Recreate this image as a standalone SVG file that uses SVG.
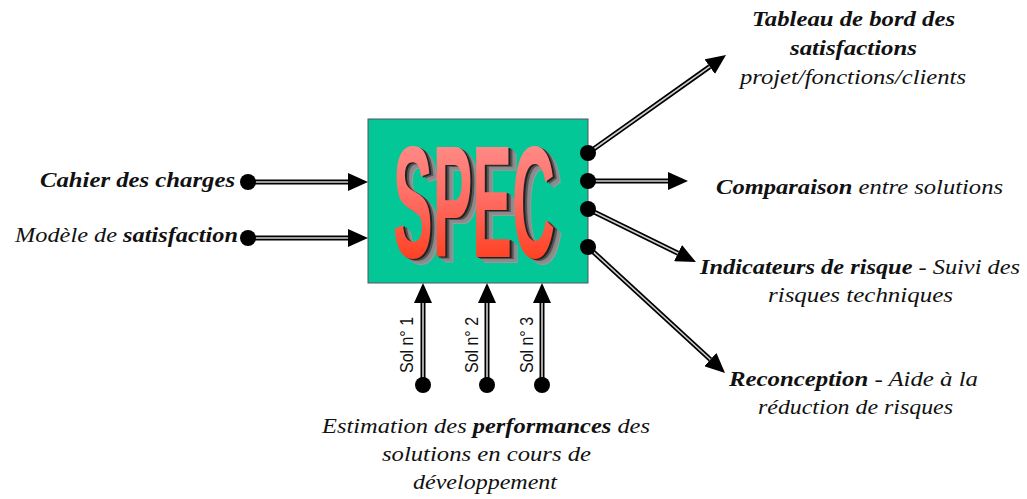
<svg xmlns="http://www.w3.org/2000/svg" xmlns:xlink="http://www.w3.org/1999/xlink" width="1027" height="499" viewBox="0 0 1027 499">
<style>
.lbl{font-style:italic;font-size:22px;fill:#111}
.b{font-weight:bold}
.sol{font-size:18px;fill:#111}
.outer{fill:none;stroke:#000;stroke-width:5}
.inner{fill:none;stroke:#d0d0d0;stroke-width:1.6}
.dot{fill:#000}
.spec{font-weight:bold;font-size:159px}
</style>
<defs>
<marker id="ah" viewBox="0 0 20 18" refX="0" refY="9" markerWidth="20" markerHeight="18" markerUnits="userSpaceOnUse" orient="auto">
<path d="M0,0 L20,9 L0,18 z" fill="#000"/>
</marker>
<linearGradient id="red" x1="0" y1="0" x2="0" y2="1">
<stop offset="0" stop-color="#ff9c9c"/>
<stop offset="0.5" stop-color="#ff6a60"/>
<stop offset="1" stop-color="#ff2a00"/>
</linearGradient>
<text id="specTxt" class="spec" font-family="Liberation Sans, Arial, sans-serif" x="393" y="257" textLength="162" lengthAdjust="spacingAndGlyphs">SPEC</text>
</defs>
<rect width="1027" height="499" fill="#fff"/>

<g id="spec-box">
<rect x="368" y="119" width="220" height="164" fill="#04c798" stroke="#556" stroke-width="1"/>
<use xlink:href="#specTxt" x="8" y="6" fill="#9a9a9a"/>
<use xlink:href="#specTxt" x="7" y="5" fill="#8c8c8c"/>
<use xlink:href="#specTxt" x="6" y="4" fill="#8c8c8c"/>
<use xlink:href="#specTxt" x="5" y="3" fill="#888"/>
<use xlink:href="#specTxt" x="4" y="2" fill="#555"/>
<use xlink:href="#specTxt" x="2" y="1" fill="#222"/>
<use xlink:href="#specTxt" x="0" y="0" fill="url(#red)"/>
</g>

<g id="connectors">
<path class="outer" d="M248,182 H348" marker-end="url(#ah)"/>
<path class="inner" d="M248,182 H348"/>
<path class="outer" d="M248,238 H348" marker-end="url(#ah)"/>
<path class="inner" d="M248,238 H348"/>
<path class="outer" d="M423,385 V303" marker-end="url(#ah)"/>
<path class="inner" d="M423,385 V303"/>
<path class="outer" d="M487,385 V303" marker-end="url(#ah)"/>
<path class="inner" d="M487,385 V303"/>
<path class="outer" d="M542,385 V303" marker-end="url(#ah)"/>
<path class="inner" d="M542,385 V303"/>
<path class="outer" d="M588,153 L709.7,66.6" marker-end="url(#ah)"/>
<path class="inner" d="M588,153 L709.7,66.6"/>
<path class="outer" d="M588,181 H668" marker-end="url(#ah)"/>
<path class="inner" d="M588,181 H668"/>
<path class="outer" d="M588,209 L678,253.2" marker-end="url(#ah)"/>
<path class="inner" d="M588,209 L678,253.2"/>
<path class="outer" d="M588,247 L710.3,359.5" marker-end="url(#ah)"/>
<path class="inner" d="M588,247 L710.3,359.5"/>
<circle class="dot" cx="248" cy="182" r="8"/>
<circle class="dot" cx="248" cy="238" r="8"/>
<circle class="dot" cx="423" cy="385" r="8"/>
<circle class="dot" cx="487" cy="385" r="8"/>
<circle class="dot" cx="542" cy="385" r="8"/>
<circle class="dot" cx="588" cy="153" r="8"/>
<circle class="dot" cx="588" cy="181" r="8"/>
<circle class="dot" cx="588" cy="209" r="8"/>
<circle class="dot" cx="588" cy="247" r="8"/>
<g font-family="Liberation Sans, Arial, sans-serif">
<text class="sol" transform="translate(413,373) rotate(-90)" textLength="56" lengthAdjust="spacingAndGlyphs">Sol n° 1</text>
<text class="sol" transform="translate(478,373) rotate(-90)" textLength="56" lengthAdjust="spacingAndGlyphs">Sol n° 2</text>
<text class="sol" transform="translate(533,373) rotate(-90)" textLength="56" lengthAdjust="spacingAndGlyphs">Sol n° 3</text>
</g>
</g>

<g font-family="Liberation Serif, DejaVu Serif, Times New Roman, serif">
<g id="cahier">
<text class="lbl b" x="40" y="187" textLength="195" lengthAdjust="spacingAndGlyphs">Cahier des charges</text>
</g>
<g id="modele">
<text class="lbl" x="15" y="242" textLength="223" lengthAdjust="spacingAndGlyphs">Modèle de <tspan class="b">satisfaction</tspan></text>
</g>
<g id="tableau">
<text class="lbl b" x="752" y="26" textLength="203" lengthAdjust="spacingAndGlyphs">Tableau de bord des</text>
<text class="lbl b" x="790" y="55" textLength="127" lengthAdjust="spacingAndGlyphs">satisfactions</text>
<text class="lbl" x="740" y="84" textLength="226" lengthAdjust="spacingAndGlyphs">projet/fonctions/clients</text>
</g>
<g id="comparaison">
<text class="lbl" x="716" y="194" textLength="287" lengthAdjust="spacingAndGlyphs"><tspan class="b">Comparaison</tspan> entre solutions</text>
</g>
<g id="indicateurs">
<text class="lbl" x="700" y="274" textLength="320" lengthAdjust="spacingAndGlyphs"><tspan class="b">Indicateurs de risque</tspan> - Suivi des</text>
<text class="lbl" x="768" y="302" textLength="185" lengthAdjust="spacingAndGlyphs">risques techniques</text>
</g>
<g id="reconception">
<text class="lbl" x="729" y="386" textLength="249" lengthAdjust="spacingAndGlyphs"><tspan class="b">Reconception</tspan> - Aide à la</text>
<text class="lbl" x="758" y="414" textLength="195" lengthAdjust="spacingAndGlyphs">réduction de risques</text>
</g>
<g id="estimation">
<text class="lbl" x="322" y="433" textLength="328" lengthAdjust="spacingAndGlyphs">Estimation des <tspan class="b">performances</tspan> des</text>
<text class="lbl" x="382" y="461" textLength="209" lengthAdjust="spacingAndGlyphs">solutions en cours de</text>
<text class="lbl" x="413" y="489" textLength="144" lengthAdjust="spacingAndGlyphs">développement</text>
</g>
</g>
</svg>
